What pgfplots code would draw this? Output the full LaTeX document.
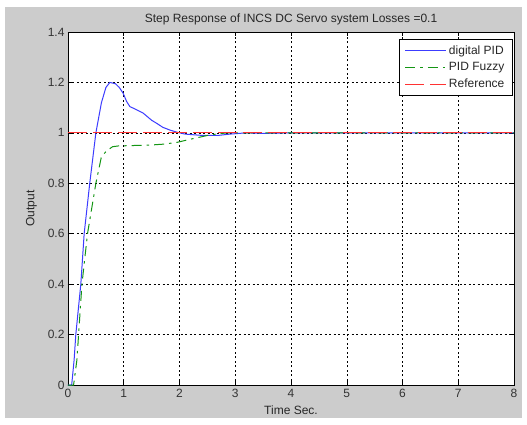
\documentclass[border=0pt]{standalone}
\usepackage{pgfplots}
\pgfplotsset{compat=1.18}
\usepackage{fontspec}
\setmainfont{Liberation Sans}
\definecolor{figgray}{RGB}{204,204,204}
\definecolor{mblue}{RGB}{60,60,255}
\definecolor{mgreen}{RGB}{20,150,20}
\definecolor{mred}{RGB}{255,50,50}
\begin{document}
\begin{tikzpicture}[x=1pt,y=1pt]
\path[use as bounding box,fill=white] (-68,-39) rectangle (459,385);
\fill[figgray] (-63,-33) rectangle (454,378);
\begin{axis}[
  at={(0,0)}, anchor=south west,
  scale only axis, width=446pt, height=353pt,
  xmin=0, xmax=8, ymin=0, ymax=1.4,
  xtick={0,1,...,8}, ytick={0,0.2,0.4,0.6,0.8,1,1.2,1.4},
  yticklabels={0,0.2,0.4,0.6,0.8,1,1.2,1.4},
  axis background/.style={fill=white},
  tick align=inside, major tick length=4pt,
  tick style={black, line width=0.5pt},
  xtick pos=both, ytick pos=both,
  grid=major,
  major grid style={black, line width=0.5pt, dash pattern=on 2pt off 2.5pt},
  axis line style={black, line width=0.6pt},
  /pgf/number format/assume math mode=true,
  font=\fontsize{12}{14}\selectfont,
  ticklabel style={font=\fontsize{12}{14}\selectfont, text=black!80},
  xticklabel style={yshift=-1pt},
  title={Step Response of INCS DC Servo system Losses =0.1},
  title style={font=\fontsize{12}{14}\selectfont, yshift=-3pt, text=black!85},
  xlabel={Time Sec.}, ylabel={Output},
  label style={text=black!85},
  xlabel style={yshift=-1pt},
  ylabel style={yshift=4pt},
  legend style={at={(0.997,0.98)}, anchor=north east, draw=black, fill=white, line width=0.6pt,
     font=\fontsize{12}{14}\selectfont, row sep=3pt, inner xsep=6pt, inner ysep=4pt, text=black!85},
  legend cell align=left,
  legend image code/.code={\draw[#1] plot coordinates {(0pt,0pt) (21pt,0pt) (41pt,0pt)};},
]
\addplot[mblue, line width=1pt] coordinates {
(0,0) (0.066,0) (0.11,0.1) (0.14,0.2) (0.23,0.4) (0.29,0.6) (0.39,0.8) (0.50,1.0)
(0.6,1.12) (0.68,1.18) (0.75,1.2) (0.85,1.195) (0.92,1.18) (0.99,1.157) (1.05,1.125)
(1.11,1.104) (1.2,1.095) (1.35,1.078) (1.5,1.05) (1.59,1.038) (1.7,1.022) (1.83,1.011)
(1.95,1.003) (2.1,0.995) (2.4,0.99) (2.7,0.99) (2.9,0.995) (3.2,1.0) (3.5,0.998) (4,1.0) (8,1.0)};
\addlegendentry{digital PID}
\addplot[mgreen, line width=1pt, dash pattern=on 10pt off 5pt on 2.5pt off 5pt] coordinates {
(0,0) (0.1,0) (0.16,0.1) (0.19,0.2) (0.25,0.4) (0.35,0.6) (0.5,0.8) (0.6,0.906)
(0.7,0.93) (0.8,0.945) (0.9,0.948) (1.2,0.95) (1.5,0.952) (1.7,0.955) (1.95,0.962)
(2.2,0.975) (2.55,0.992) (2.85,1.0) (3.5,1.0) (8,1.0)};
\addlegendentry{PID Fuzzy}
\addplot[mred, line width=1pt, dash pattern=on 19pt off 6pt] coordinates {(0,1) (8,1)};
\addlegendentry{Reference}
\end{axis}
\end{tikzpicture}
\end{document}
